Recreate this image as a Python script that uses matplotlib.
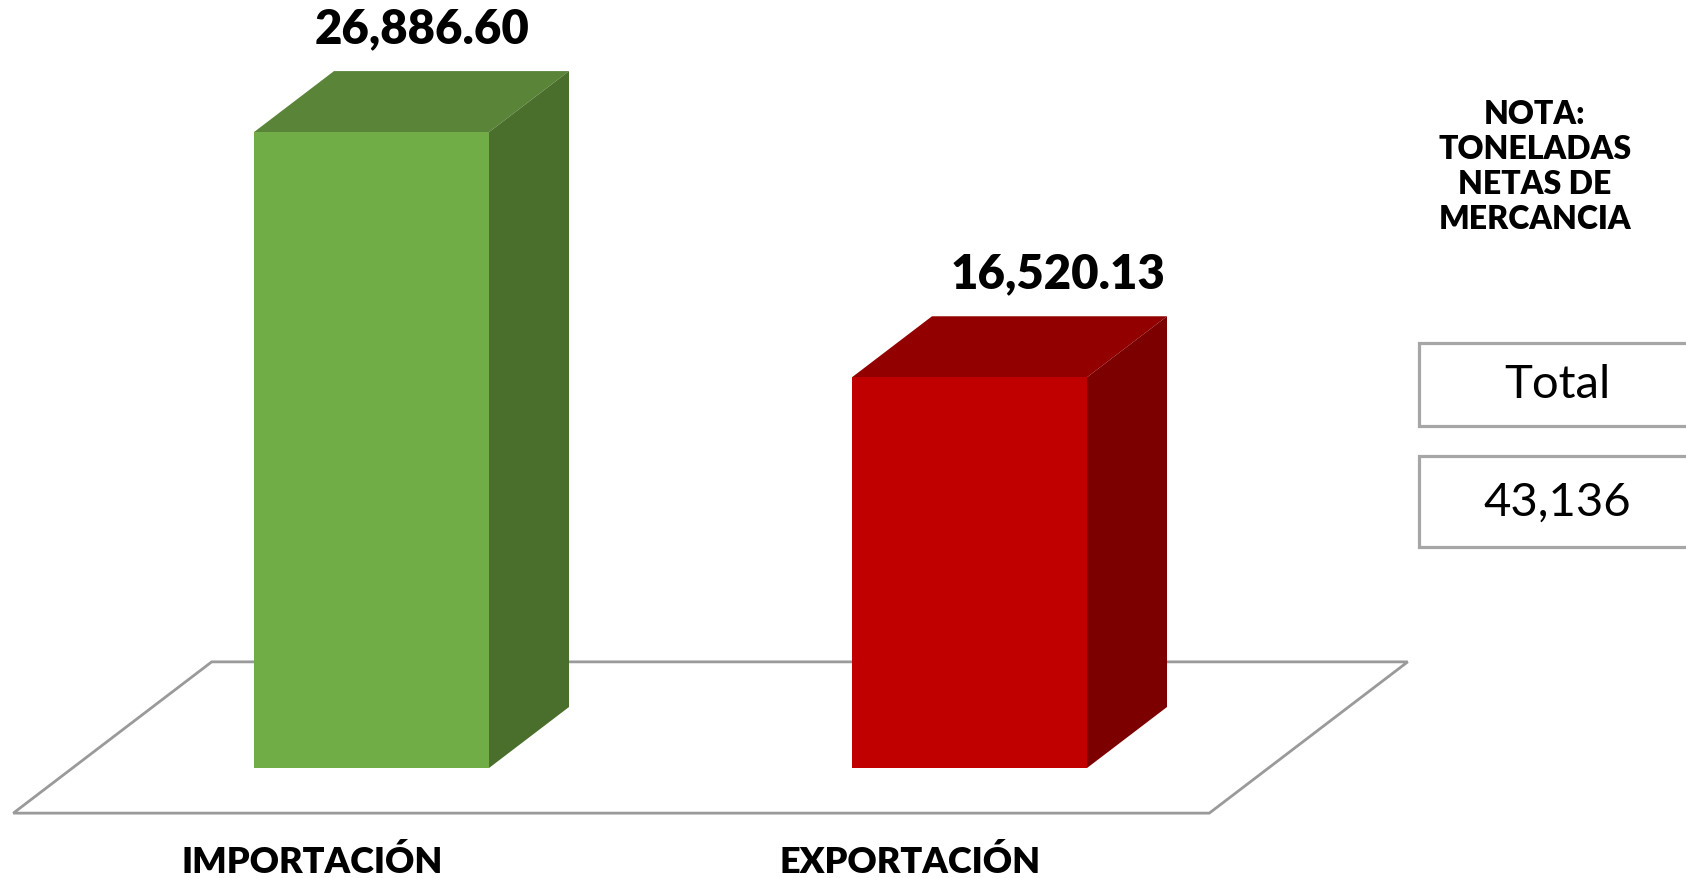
import matplotlib
matplotlib.use("Agg")
import matplotlib.pyplot as plt
from matplotlib.patches import Polygon, Rectangle

# data
categories = ["IMPORTACIÓN", "EXPORTACIÓN"]
values = [26886.60, 16520.13]
total_label = "Total"
total_value = 43136
note_lines = ["NOTA:", "TONELADAS", "NETAS DE", "MERCANCIA"]

# colours (front, top, side)
front_colors = ["#70AD47", "#C00000"]
top_colors = ["#5A8539", "#920000"]
side_colors = ["#4A6F2C", "#7D0000"]

plt.rcParams["font.family"] = ["Lato", "DejaVu Sans"]

W, H = 1686, 879
fig = plt.figure(figsize=(W / 100, H / 100), dpi=100)
ax = fig.add_axes([0, 0, 1, 1])
ax.axis("off")

# scale set-up: one category = 598 px, 1 px = 42.28 value units
CAT_PX = 598.0
X0_PX = 371.5
K = 42.28
BASE_PX = 769
ax.set_xlim(-X0_PX / CAT_PX, (W - X0_PX) / CAT_PX)
ax.set_ylim((BASE_PX - H) * K, BASE_PX * K)

# oblique depth vector (one bar depth)
DX = 80 / CAT_PX
DY = 61 * K
HALF = 0.1965          # half bar width in category units
FLOOR_Z = (-0.74, 1.74)


def proj(x, v, z):
    return (x + z * DX, v + z * DY)


# floor
z0, z1 = FLOOR_Z
floor = [proj(-0.5, 0, z0), proj(1.5, 0, z0), proj(1.5, 0, z1), proj(-0.5, 0, z1)]
ax.add_patch(Polygon(floor, closed=True, facecolor="white", edgecolor="#9A9A9A",
                     lw=2, joinstyle="miter"))

label_shift = [-0.049, 0.015]

for i, v in enumerate(values):
    l, r = i - HALF, i + HALF
    top = [proj(l, v, 0), proj(r, v, 0), proj(r, v, 1), proj(l, v, 1)]
    side = [proj(r, 0, 0), proj(r, v, 0), proj(r, v, 1), proj(r, 0, 1)]
    front = [proj(l, 0, 0), proj(r, 0, 0), proj(r, v, 0), proj(l, v, 0)]
    ax.add_patch(Polygon(top, closed=True, facecolor=top_colors[i], edgecolor="none"))
    ax.add_patch(Polygon(side, closed=True, facecolor=side_colors[i], edgecolor="none"))
    ax.add_patch(Polygon(front, closed=True, facecolor=front_colors[i], edgecolor="none"))

    # value label above the bar
    ax.annotate(f"{v:,.2f}", xy=proj(i + label_shift[i], v, 1),
                xytext=(0, 43), textcoords="offset pixels",
                ha="center", va="center", fontsize=34, fontweight="heavy", color="black")

    # category label in front of the floor
    ax.annotate(categories[i], xy=proj(i, 0, z0), xytext=(0, -48),
                textcoords="offset pixels", ha="center", va="center",
                fontsize=26, fontweight="heavy", color="black")

# note
fig.text(1535 / W, 1 - 167 / H, "\n".join(note_lines), ha="center", va="center",
         fontsize=23, fontweight="heavy", linespacing=1.25, color="black")

# total boxes
for (y_top, y_bot, txt) in [(344, 427, total_label), (457, 548, f"{total_value:,}")]:
    fig.patches.append(Rectangle((1419 / W, 1 - y_bot / H), 300 / W, (y_bot - y_top) / H,
                                 transform=fig.transFigure, facecolor="white",
                                 edgecolor="#A6A6A6", lw=2.3))
    fig.text(1557 / W, 1 - (y_top + y_bot) / 2 / H, txt, ha="center", va="center",
             fontsize=34, color="black")

fig.savefig("out.png", dpi=100)
